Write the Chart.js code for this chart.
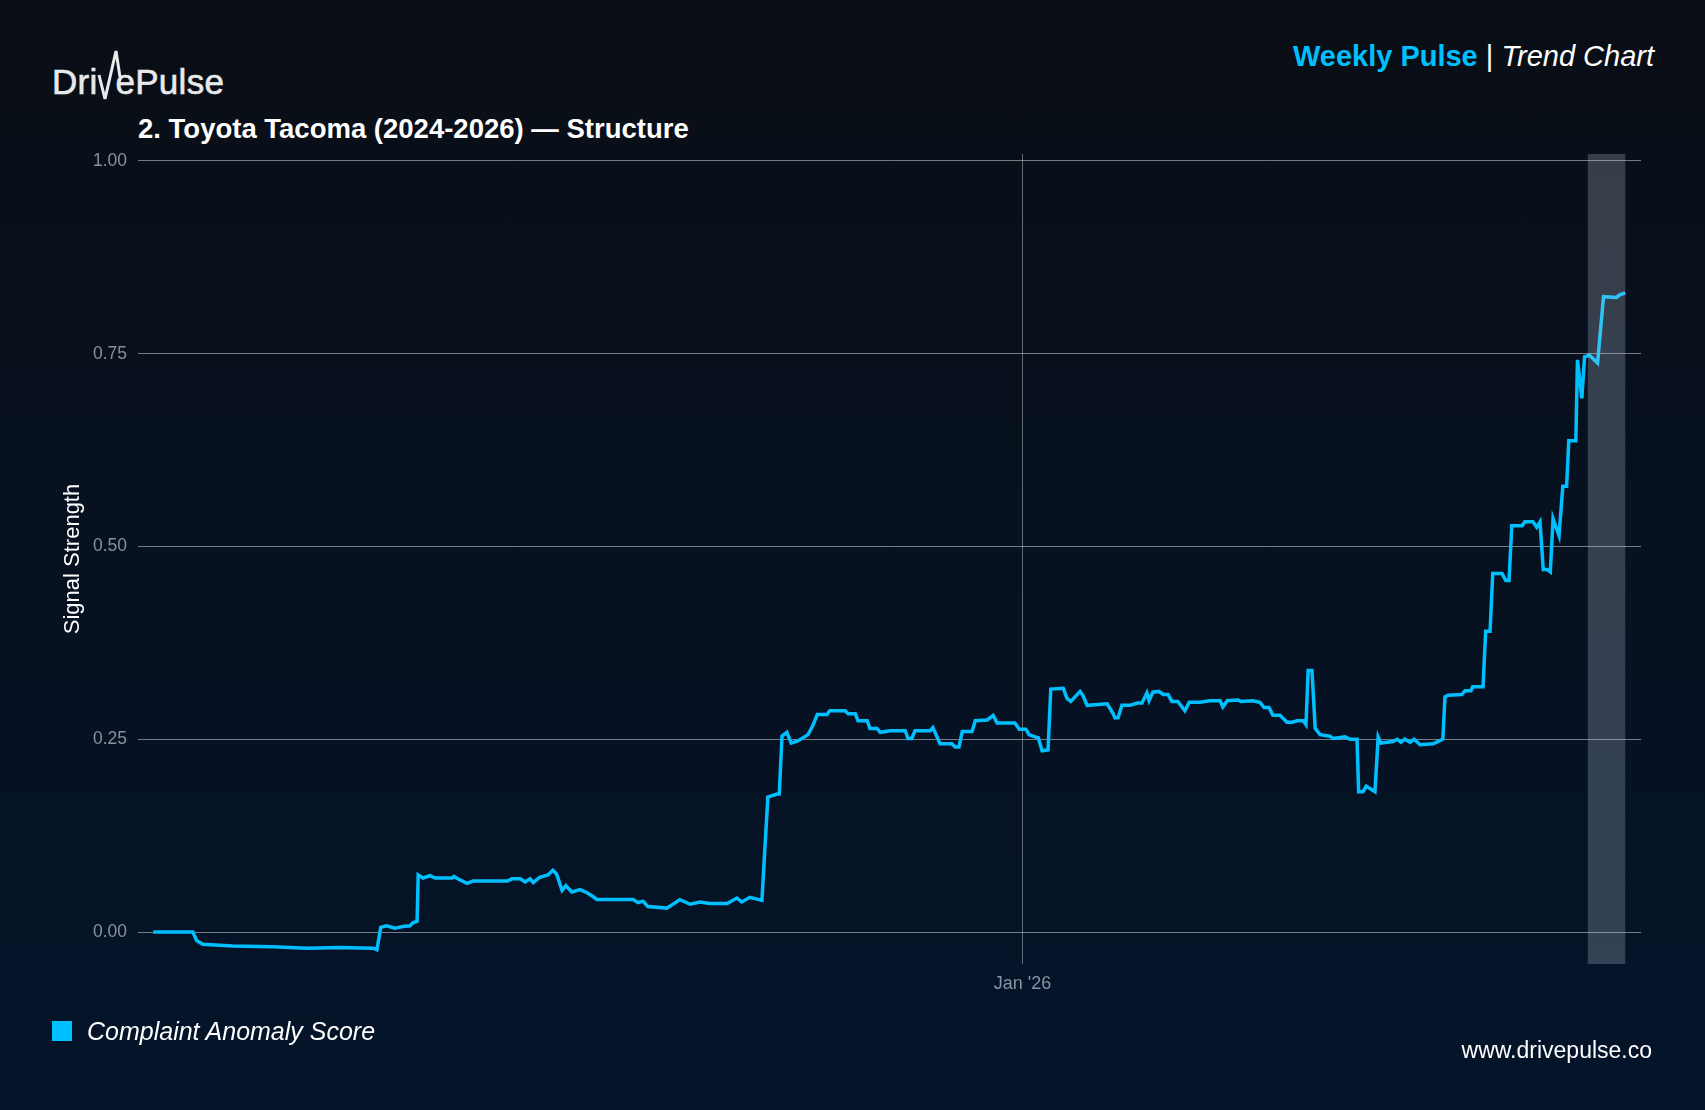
<!DOCTYPE html>
<html>
<head>
<meta charset="utf-8">
<title>DrivePulse - Trend Chart</title>
<script src="https://cdn.jsdelivr.net/npm/chart.js@4.4.1/dist/chart.umd.min.js"></script>
<style>
  html, body { margin: 0; padding: 0; }
  body {
    width: 1705px; height: 1110px; overflow: hidden; position: relative;
    background: linear-gradient(180deg, #0a0e15 0%, #07111f 45%, #04142a 100%);
    font-family: "Liberation Sans", Arial, sans-serif;
  }
  .txt { position: absolute; line-height: 1; white-space: nowrap; }
  #logo { left: 52px; top: 64px; font-size: 35px; color: #e9eaec; letter-spacing: 0.3px; -webkit-text-stroke: 0.6px #e9eaec; }
  #logo .v { position: relative; color: transparent; -webkit-text-stroke: 0; }
  #logo svg { position: absolute; left: 0px; top: -11px; overflow: visible; }
  #title { left: 138px; top: 115px; font-size: 27.5px; font-weight: bold; color: #ffffff; }
  #brand { right: 51px; top: 42px; font-size: 29px; color: #ffffff; }
  #brand b { color: #00bfff; }
  #brand i { font-style: italic; }
  #legendBox { position: absolute; left: 52px; top: 1021px; width: 20px; height: 20px; background: #00bfff; }
  #legendText { left: 87px; top: 1019px; font-size: 25px; font-style: italic; color: #ffffff; }
  #site { right: 53px; top: 1039px; font-size: 23px; color: #ffffff; }
  #wrap { position: absolute; left: 0; top: 0; width: 1705px; height: 1110px; }
</style>
</head>
<body>

<div id="logo" class="txt">Dri<span class="v">v<svg width="22" height="50" viewBox="0 0 22 50"><polyline points="1,24 7,48 18,0 22,26" fill="none" stroke="#e9eaec" stroke-width="3" stroke-linejoin="miter"/></svg></span>ePulse</div>
<div id="title" class="txt">2. Toyota Tacoma (2024-2026) — Structure</div>
<div id="brand" class="txt"><b>Weekly Pulse</b> | <i>Trend Chart</i></div>

<div id="wrap"><canvas id="chart_1"></canvas></div>

<div id="legendBox"></div>
<div id="legendText" class="txt">Complaint Anomaly Score</div>
<div id="site" class="txt">www.drivepulse.co</div>

<script>
// days relative to 1 Jan 2026
var dayOffset = [
  -160.1, -152.8, -152.1, -151.0, -145.5, -138.1, -131.8, -125.7, -119.6, -118.9,
  -118.2, -117.1, -115.6, -114.1, -112.8, -112.3, -111.5, -111.3, -110.4, -109.1,
  -108.2, -105.0, -104.7, -104.0, -102.3, -101.2, -94.9, -94.0, -92.5, -91.6,
  -90.7, -90.1, -88.9, -87.4, -86.5, -85.8, -84.8, -84.1, -83.0, -81.5,
  -80.2, -79.1, -78.4, -71.7, -70.8, -69.9, -69.0, -65.5, -63.1, -61.2,
  -59.4, -57.6, -54.4, -52.6, -51.7, -50.2, -48.0, -46.9, -45.2, -44.8,
  -44.3, -43.4, -42.6, -41.3, -39.5, -38.6, -37.8, -36.0, -35.5, -32.7,
  -32.1, -30.8, -30.3, -28.6, -28.1, -26.8, -26.2, -24.4, -21.6, -21.1,
  -20.4, -19.8, -17.0, -16.5, -15.2, -13.0, -12.4, -11.7, -11.1, -9.3,
  -8.7, -6.5, -5.4, -4.7, -1.4, -0.6, 0.6, 1.2, 2.3, 2.9,
  3.6, 4.7, 5.2, 7.5, 8.2, 8.9, 10.6, 11.1, 11.9, 15.6,
  16.7, 17.0, 17.6, 18.3, 19.8, 21.1, 22.0, 22.9, 23.3, 24.0,
  25.1, 25.9, 26.8, 27.5, 28.6, 29.9, 30.7, 32.7, 34.5, 36.4,
  36.9, 37.7, 39.7, 40.2, 42.4, 43.7, 44.5, 45.4, 46.1, 47.4,
  48.7, 49.6, 50.6, 51.7, 52.2, 52.6, 53.3, 53.9, 54.8, 56.6,
  57.2, 59.4, 60.3, 61.6, 61.9, 62.7, 63.3, 64.9, 65.5, 66.0,
  68.2, 69.0, 69.7, 70.4, 71.4, 72.1, 73.2, 75.6, 76.2, 77.4,
  77.8, 78.4, 80.9, 81.5, 82.6, 82.9, 84.8, 85.3, 86.1, 86.6,
  88.3, 89.0, 89.6, 90.1, 92.0, 92.5, 94.0, 94.7, 95.3, 95.9,
  96.6, 97.2, 97.7, 98.8, 99.5, 100.2, 100.6, 101.9, 102.2, 103.0,
  103.5, 104.4, 105.9, 107.0, 109.4, 109.9, 111.0
];

var anomalyScore = [
  0.000, 0.000, -0.011, -0.016, -0.018, -0.019, -0.021, -0.020, -0.021, -0.023,
  0.006, 0.008, 0.005, 0.007, 0.008, 0.012, 0.014, 0.074, 0.070, 0.073,
  0.070, 0.070, 0.072, 0.069, 0.063, 0.066, 0.066, 0.069, 0.069, 0.065,
  0.069, 0.064, 0.071, 0.074, 0.080, 0.075, 0.054, 0.060, 0.052, 0.055,
  0.051, 0.046, 0.042, 0.042, 0.038, 0.040, 0.033, 0.031, 0.042, 0.036,
  0.039, 0.037, 0.037, 0.044, 0.039, 0.045, 0.041, 0.175, 0.179, 0.179,
  0.254, 0.259, 0.245, 0.248, 0.256, 0.268, 0.282, 0.282, 0.287, 0.287,
  0.283, 0.283, 0.274, 0.274, 0.264, 0.264, 0.259, 0.261, 0.261, 0.251,
  0.251, 0.261, 0.261, 0.265, 0.244, 0.244, 0.240, 0.240, 0.260, 0.260,
  0.274, 0.275, 0.281, 0.271, 0.271, 0.263, 0.263, 0.256, 0.253, 0.252,
  0.235, 0.236, 0.315, 0.316, 0.303, 0.299, 0.312, 0.307, 0.294, 0.296,
  0.283, 0.278, 0.278, 0.294, 0.294, 0.297, 0.297, 0.310, 0.300, 0.311,
  0.312, 0.308, 0.308, 0.299, 0.299, 0.287, 0.298, 0.298, 0.300, 0.300,
  0.292, 0.300, 0.301, 0.299, 0.300, 0.298, 0.291, 0.291, 0.281, 0.281,
  0.272, 0.272, 0.274, 0.274, 0.269, 0.339, 0.339, 0.264, 0.256, 0.254,
  0.251, 0.253, 0.250, 0.250, 0.182, 0.182, 0.189, 0.182, 0.253, 0.245,
  0.247, 0.250, 0.246, 0.250, 0.246, 0.250, 0.243, 0.244, 0.246, 0.250,
  0.305, 0.307, 0.308, 0.313, 0.313, 0.318, 0.318, 0.390, 0.390, 0.465,
  0.465, 0.456, 0.456, 0.527, 0.527, 0.532, 0.532, 0.525, 0.532, 0.470,
  0.470, 0.467, 0.536, 0.514, 0.578, 0.578, 0.637, 0.637, 0.742, 0.692,
  0.746, 0.748, 0.738, 0.824, 0.823, 0.826, 0.829
];

var yTicks = [0, 0.25, 0.5, 0.75, 1.0];
var xTicks = [0];
var xTickLabels = ["Jan '26"];
// latest week, shaded
var highlightWeek = [104.1, 111.0];

function buildPoints(xs, ys) {
  var pts = [];
  for (var i = 0; i < xs.length; i++) {
    pts.push({ x: xs[i], y: ys[i] });
  }
  return pts;
}

var weekBand = {
  id: 'weekBand',
  afterDatasetsDraw: function(chart) {
    var ctx = chart.ctx;
    var area = chart.chartArea;
    var xs = chart.scales.x;
    var x0 = xs.getPixelForValue(highlightWeek[0]);
    var x1 = xs.getPixelForValue(highlightWeek[1]);
    ctx.save();
    ctx.fillStyle = 'rgba(190, 205, 225, 0.25)';
    ctx.fillRect(x0, area.top, x1 - x0, area.bottom - area.top);
    ctx.restore();
  }
};

var ctx_1 = document.getElementById('chart_1').getContext('2d');
var chart_1 = new Chart(ctx_1, {
  type: 'line',
  data: {
    datasets: [{
      label: 'Complaint Anomaly Score',
      data: buildPoints(dayOffset, anomalyScore),
      borderColor: '#00bfff',
      backgroundColor: '#00bfff',
      borderWidth: 3.5,
      pointRadius: 0,
      tension: 0,
      fill: false
    }]
  },
  options: {
    responsive: true,
    maintainAspectRatio: false,
    animation: false,
    layout: { padding: { top: 154, right: 64, bottom: 0, left: 0 } },
    plugins: {
      legend: { display: false },
      tooltip: { enabled: false }
    },
    scales: {
      x: {
        type: 'linear',
        min: -162.9,
        max: 113.9,
        afterFit: function(scale) { scale.height = 146; },
        afterBuildTicks: function(scale) {
          scale.ticks = xTicks.map(function(v) { return { value: v }; });
        },
        grid: { color: 'rgba(255,255,255,0.38)', lineWidth: 1, drawTicks: false },
        border: { display: false },
        ticks: {
          color: '#8793a3',
          padding: 9,
          font: { family: 'Liberation Sans', size: 18 },
          callback: function(value) {
            var i = xTicks.indexOf(value);
            return i >= 0 ? xTickLabels[i] : '';
          }
        }
      },
      y: {
        min: -0.0415,
        max: 1.009,
        afterFit: function(scale) { scale.width = 138; },
        afterBuildTicks: function(scale) {
          scale.ticks = yTicks.map(function(v) { return { value: v }; });
        },
        grid: { color: 'rgba(255,255,255,0.45)', lineWidth: 1, drawTicks: false },
        border: { display: false },
        ticks: {
          color: '#8a919c',
          padding: 11,
          font: { family: 'Liberation Sans', size: 17.5 },
          callback: function(value) { return value.toFixed(2); }
        },
        title: {
          display: true,
          text: 'Signal Strength',
          color: '#ffffff',
          font: { family: 'Liberation Sans', size: 22 },
          padding: { top: 60, bottom: 0 }
        }
      }
    }
  },
  plugins: [weekBand]
});
</script>
</body>
</html>
